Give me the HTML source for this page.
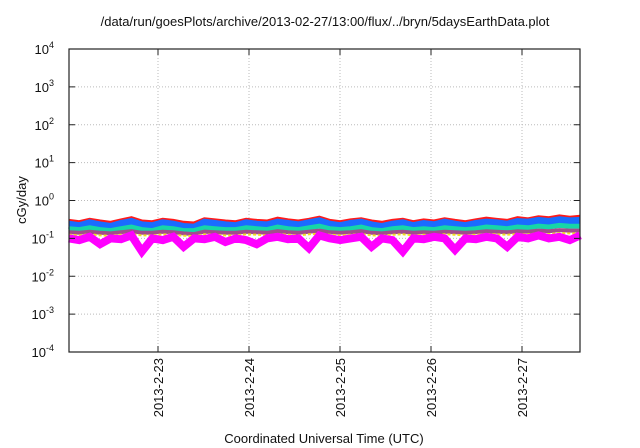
<!DOCTYPE html>
<html><head><meta charset="utf-8"><style>
body{margin:0;background:#fff;}
svg{display:block;font-family:"Liberation Sans",sans-serif;}
</style></head><body>
<svg id="chart" width="640" height="448" viewBox="0 0 640 448">
<text x="325" y="26" font-size="13" text-anchor="middle" fill="#111">/data/run/goesPlots/archive/2013-02-27/13:00/flux/../bryn/5daysEarthData.plot</text>
<g id="grid"></g>
<g id="series"></g>
<rect x="69" y="49" width="511" height="303" fill="none" stroke="#222" stroke-width="1.2"/>
<g id="axes"></g>
<text transform="translate(26,200) rotate(-90)" font-size="13" text-anchor="middle" fill="#111">cGy/day</text>
<text x="324" y="443" font-size="13" text-anchor="middle" fill="#111">Coordinated Universal Time (UTC)</text>
</svg>
<script>
const yExponents=[4,3,2,1,0,-1,-2,-3,-4];
const xTickDays=[1,2,3,4,5];
const xTickLabels=["2013-2-23","2013-2-24","2013-2-25","2013-2-26","2013-2-27"];
const tStart=0.02, tEnd=5.64;
const red=[0.28,0.26,0.3,0.27,0.25,0.29,0.33,0.27,0.26,0.3,0.28,0.25,0.24,0.31,0.29,0.27,0.26,0.3,0.28,0.27,0.32,0.29,0.27,0.3,0.34,0.28,0.26,0.29,0.31,0.27,0.25,0.28,0.3,0.26,0.29,0.27,0.31,0.28,0.26,0.29,0.32,0.3,0.28,0.33,0.31,0.35,0.33,0.37,0.34,0.36];
const blue=[0.23,0.21,0.25,0.22,0.2,0.24,0.27,0.22,0.21,0.25,0.23,0.2,0.19,0.26,0.24,0.22,0.21,0.25,0.23,0.22,0.26,0.24,0.22,0.25,0.28,0.23,0.21,0.24,0.26,0.22,0.2,0.23,0.25,0.21,0.24,0.22,0.26,0.23,0.21,0.24,0.26,0.25,0.23,0.27,0.26,0.29,0.27,0.3,0.28,0.29];
const teal=[0.18,0.17,0.19,0.17,0.16,0.18,0.2,0.17,0.16,0.19,0.18,0.16,0.16,0.19,0.18,0.17,0.17,0.19,0.18,0.17,0.2,0.18,0.17,0.19,0.21,0.18,0.17,0.18,0.2,0.17,0.16,0.18,0.19,0.17,0.18,0.17,0.19,0.18,0.17,0.18,0.2,0.19,0.18,0.2,0.19,0.21,0.2,0.22,0.21,0.21];
const purple=[0.145,0.14,0.15,0.14,0.135,0.145,0.155,0.14,0.14,0.15,0.145,0.135,0.13,0.15,0.145,0.14,0.14,0.15,0.145,0.14,0.155,0.145,0.14,0.15,0.16,0.145,0.14,0.145,0.155,0.14,0.135,0.145,0.15,0.14,0.145,0.14,0.15,0.145,0.14,0.145,0.155,0.15,0.145,0.155,0.15,0.16,0.155,0.165,0.16,0.16];
const yellow=[0.125,0.12,0.13,0.12,0.118,0.125,0.13,0.12,0.12,0.128,0.125,0.118,0.115,0.128,0.125,0.12,0.12,0.128,0.125,0.12,0.13,0.125,0.12,0.128,0.133,0.125,0.12,0.125,0.13,0.12,0.118,0.125,0.128,0.12,0.125,0.12,0.128,0.125,0.12,0.125,0.13,0.128,0.125,0.13,0.128,0.135,0.13,0.138,0.135,0.135];
const magenta=[0.1,0.09,0.11,0.07,0.1,0.095,0.12,0.045,0.1,0.09,0.11,0.06,0.1,0.095,0.11,0.08,0.1,0.09,0.07,0.1,0.11,0.095,0.1,0.055,0.12,0.1,0.09,0.1,0.11,0.06,0.1,0.09,0.045,0.1,0.095,0.11,0.1,0.05,0.1,0.095,0.11,0.1,0.06,0.11,0.1,0.12,0.1,0.11,0.09,0.12];
const seriesList=[["series-red",red,"#ff1a1a",5],["series-blue",blue,"#1a6cff",8],["series-teal",teal,"#16d6a8",5],["series-purple",purple,"#a24c8c",4],["series-yellow",yellow,"#f0e020",2],["series-magenta",magenta,"#ff00ff",8]];
const L=69,R=580,T=49,B=352;
function yScale(v){return B-(Math.log10(v)+4)*(B-T)/8;}
function xScale(d){return 69+(d-0.022)*91;}
const NS="http://www.w3.org/2000/svg";
function mk(tag,attrs,parent){const e=document.createElementNS(NS,tag);for(const k in attrs)e.setAttribute(k,attrs[k]);parent.appendChild(e);return e;}
const grid=document.getElementById('grid'),axes=document.getElementById('axes'),sg=document.getElementById('series');
yExponents.forEach(ex=>{const y=yScale(Math.pow(10,ex));
 if(ex<4&&ex>-4){const g=mk('line',{x1:L,x2:R,y1:y,y2:y,stroke:'#bbb','stroke-dasharray':'1,2'},grid);
 
 }
 const t1=mk('line',{x1:L,x2:L+6,y1:y,y2:y,stroke:'#222'},axes);
 
 
 const t2=mk('line',{x1:R-6,x2:R,y1:y,y2:y,stroke:'#222'},axes);
 
 
 const tx=mk('text',{x:54,y:y+5,'font-size':13,'text-anchor':'end',fill:'#111'},axes);
 
 
 tx.textContent='10';
 const sup=mk('tspan',{dy:-6,'font-size':9},tx);sup.textContent=String(ex);
});
xTickDays.forEach((d,i)=>{const x=xScale(d);
 const g=mk('line',{x1:x,x2:x,y1:T,y2:B,stroke:'#bbb','stroke-dasharray':'1,2'},grid);
 
 
 const t1=mk('line',{x1:x,x2:x,y1:B-6,y2:B,stroke:'#222'},axes);
 
 
 const t2=mk('line',{x1:x,x2:x,y1:T,y2:T+6,stroke:'#222'},axes);
 
 
 const tx=mk('text',{transform:`translate(${x+5},358) rotate(-90)`,'font-size':13,'text-anchor':'end',fill:'#111'},axes);
 
 
 tx.textContent=xTickLabels[i];
});
seriesList.forEach(([name,vals,col,w])=>{
 const n=vals.length;const pts=vals.map((v,i)=>xScale(tStart+(tEnd-tStart)*i/(n-1)).toFixed(1)+','+yScale(v).toFixed(1)).join(' ');
 const p=mk('polyline',{points:pts,fill:'none',stroke:col,'stroke-width':w,'stroke-linejoin':'miter','stroke-dasharray':name==='series-yellow'?'3,2':'none'},sg);
 
 
});
</script>
</body></html>
